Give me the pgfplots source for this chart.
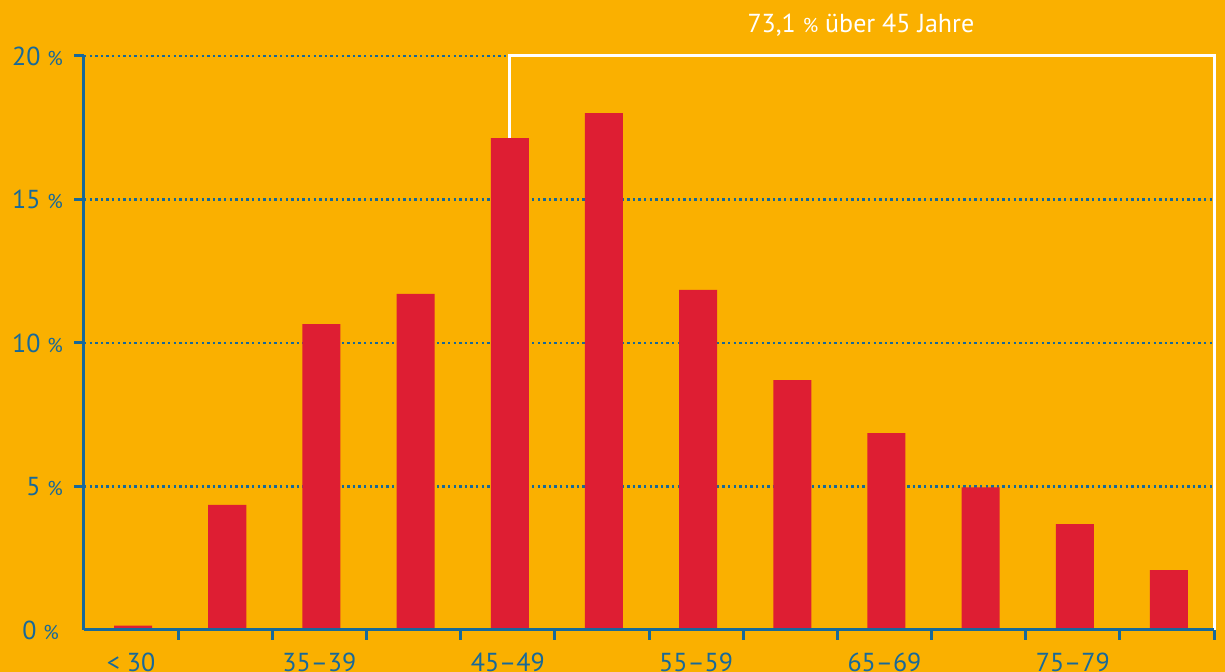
\documentclass[border=0pt]{standalone}
\usepackage{pgfplots}
\pgfplotsset{compat=1.18}
\usepackage{fontspec}
\setmainfont{PT Sans}
\definecolor{bgorange}{HTML}{FAB000}
\definecolor{barred}{HTML}{DE1E33}
\definecolor{axblue}{HTML}{17699A}
\newcommand{\pc}{{\fontsize{10}{10}\selectfont\%}}
\begin{document}
\begin{tikzpicture}
\clip (-42pt,-21pt) rectangle (570.5pt,315pt);
\fill[bgorange] (-42pt,-21pt) rectangle (570.5pt,315pt);
\begin{axis}[
  at={(0,0)}, anchor=south west,
  scale only axis, width=565pt, height=287pt,
  xmin=0, xmax=12, ymin=0, ymax=20,
  axis lines*=left,
  axis line style={axblue, line width=1.5pt},
  tick align=outside,
  major tick length=5pt,
  tick style={axblue, line width=1.5pt},
  xtick={1,2,...,12},
  xticklabels={},
  extra x ticks={0.5,2.5,4.5,6.5,8.5,10.5},
  extra x tick labels={{< 30},{35–39},{45–49},{55–59},{65–69},{75–79}},
  extra x tick style={major tick length=0pt, grid=none,
     xticklabel style={yshift=-8pt}},
  ytick={5,10,15,20},
  yticklabels={{5 \pc},{10 \pc},{15 \pc},{20 \pc}},
  yticklabel style={xshift=-2pt},
  extra y ticks={0},
  extra y tick labels={{0 \pc}},
  extra y tick style={major tick length=0pt, grid=none,
     yticklabel style={xshift=-7pt}},
  ymajorgrids,
  major grid style={axblue, line width=1.3pt, dash pattern=on 1.2pt off 1.6pt},
  ticklabel style={font=\fontsize{13}{15}\selectfont, text=axblue},
  clip=false,
]
\addplot[ybar, bar width=19pt, bar shift=1pt, fill=barred, draw=none] coordinates {
(0.5,0.15) (1.5,4.36) (2.5,10.66) (3.5,11.71) (4.5,17.14) (5.5,18.01)
(6.5,11.85) (7.5,8.71) (8.5,6.86) (9.5,4.97) (10.5,3.69) (11.5,2.09)};
\draw[white, line width=1.5pt] (axis cs:4.52,17.14) |- (axis cs:12,20) -- (axis cs:12,0);
\draw[axblue, line width=1.5pt] (axis cs:0,0) -- (axis cs:12,0);
\node[text=white, font=\fontsize{13}{15}\selectfont, anchor=base] at (axis cs:8.25,20) [yshift=11.5pt] {73,1 \pc{} über 45 Jahre};
\end{axis}
\end{tikzpicture}
\end{document}
